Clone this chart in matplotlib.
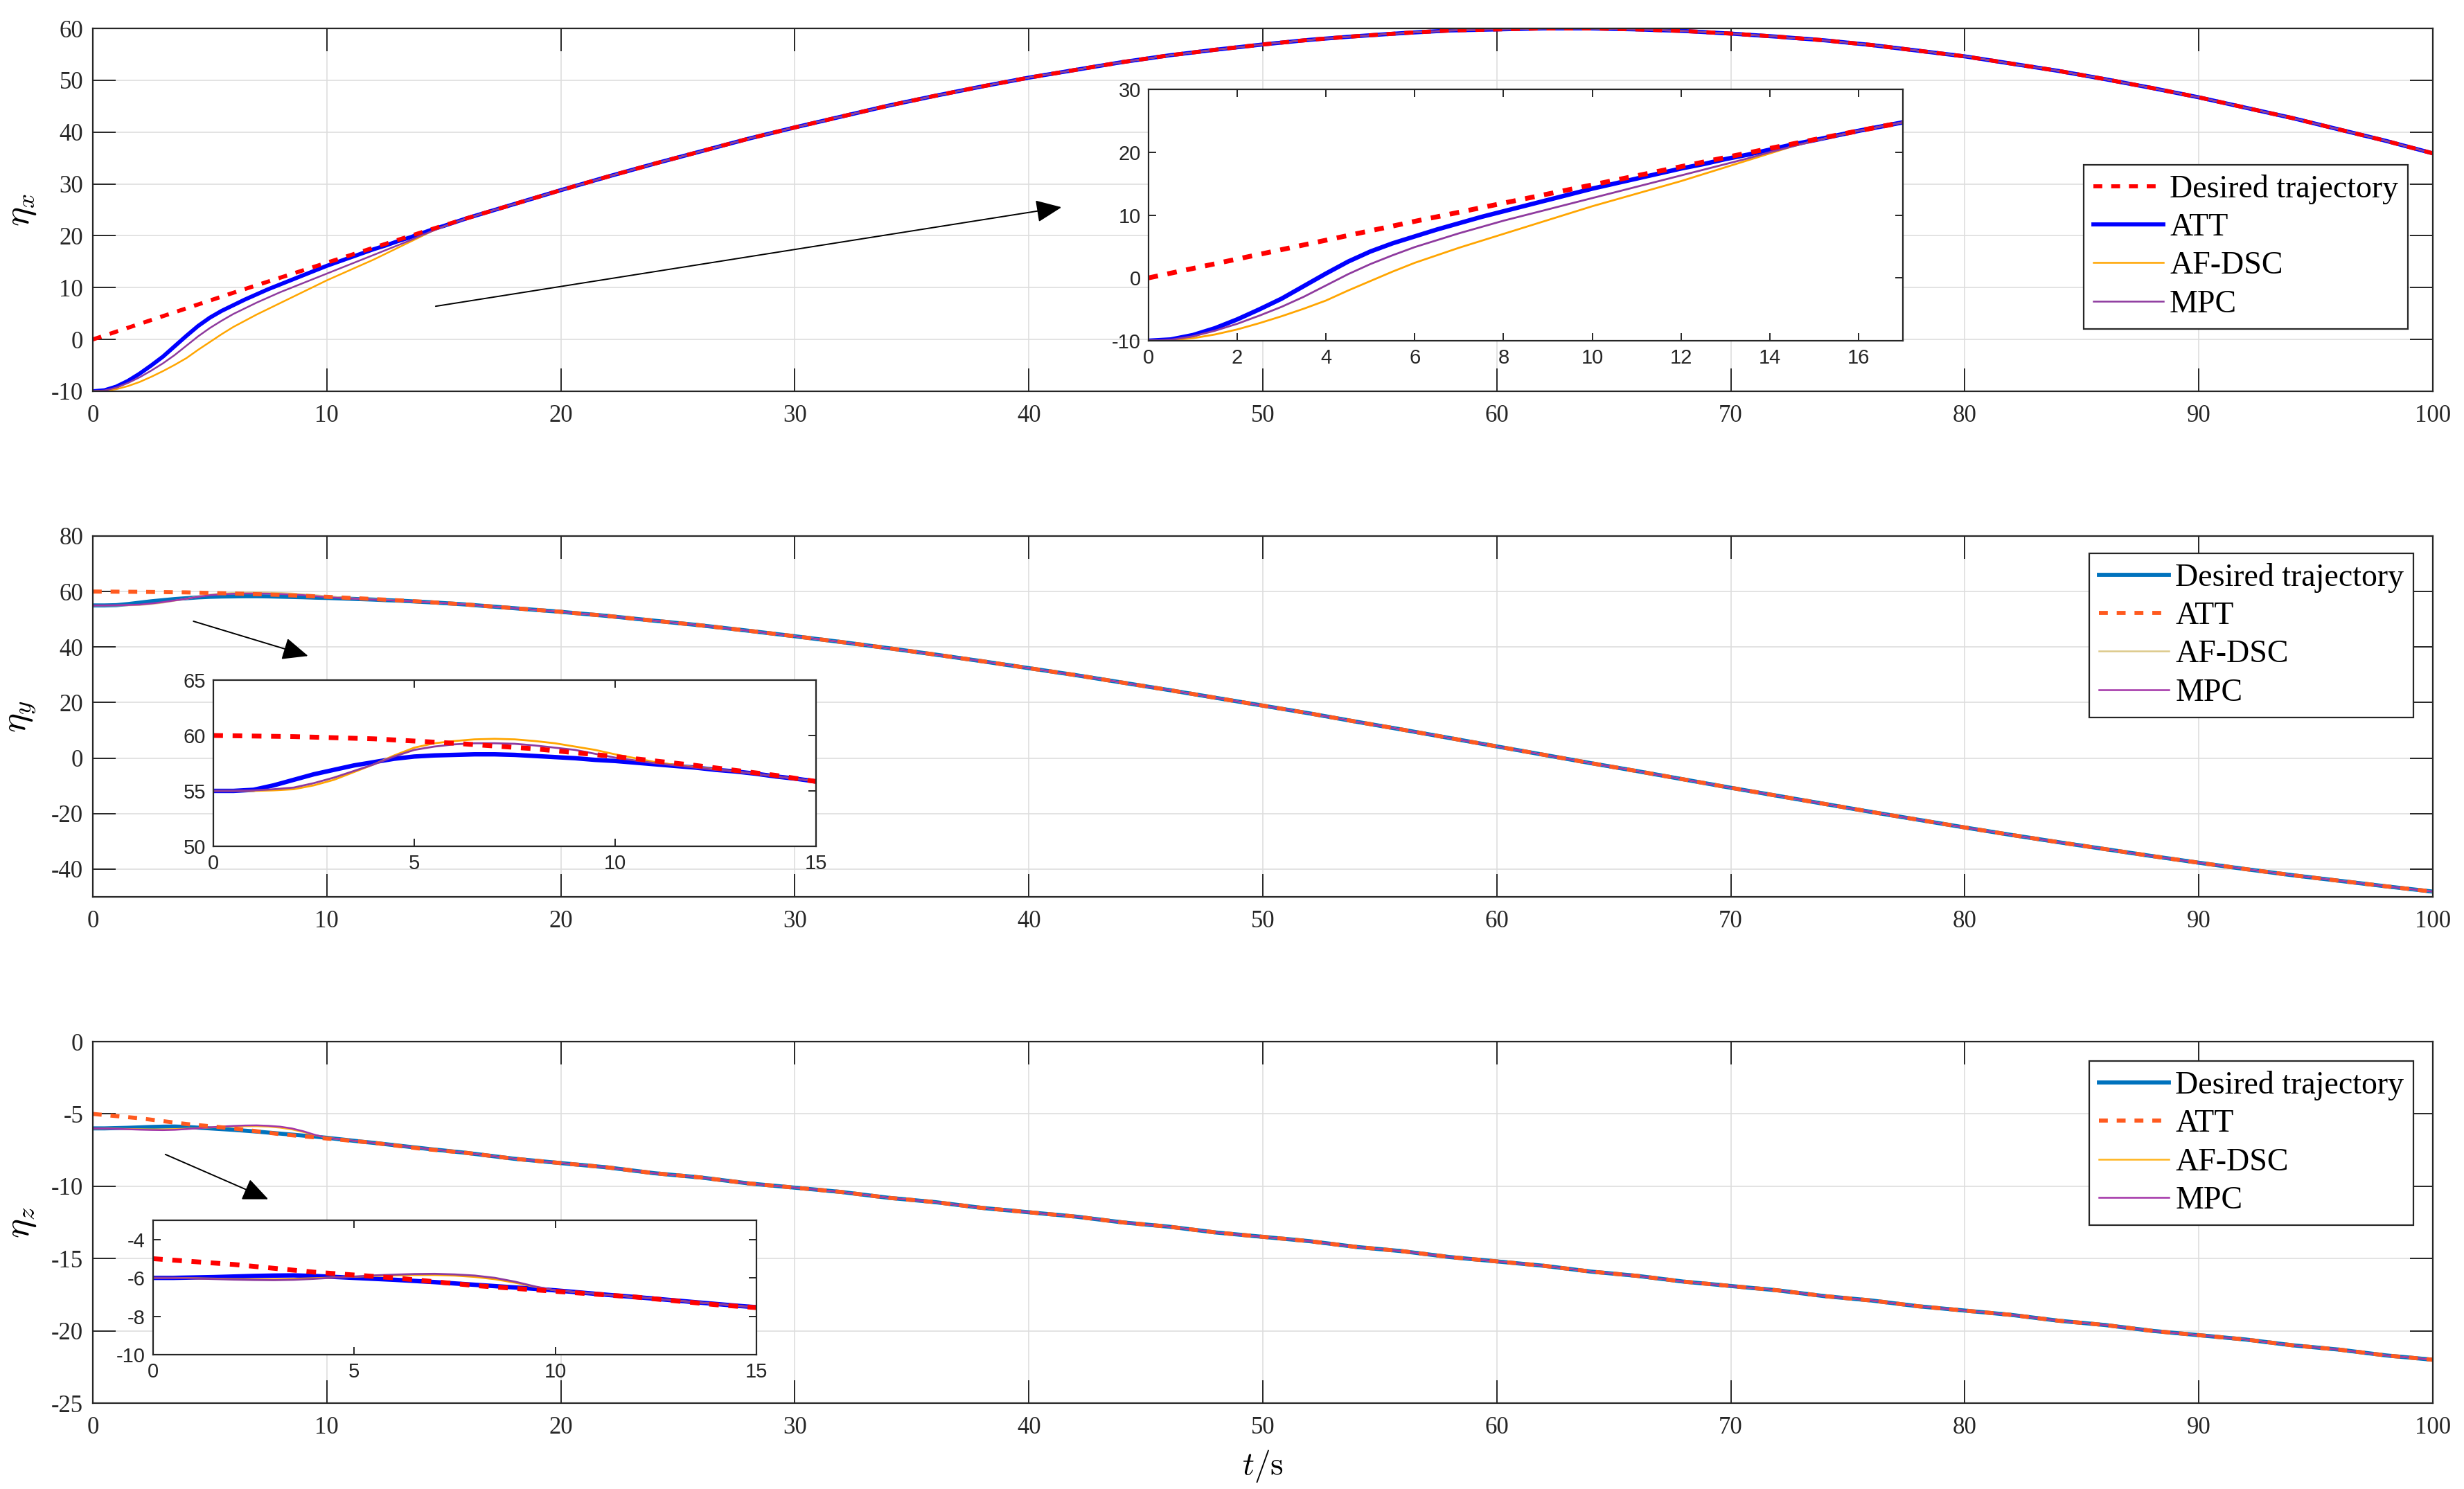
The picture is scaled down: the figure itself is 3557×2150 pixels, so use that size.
import matplotlib
matplotlib.use('Agg')
import matplotlib.pyplot as plt

plt.rcParams['font.family'] = ['Liberation Serif', 'DejaVu Serif']
plt.rcParams['mathtext.fontset'] = 'cm'
plt.rcParams['axes.unicode_minus'] = False

# desired trajectory, sampled every 2 s
t_des = [0, 2, 4, 6, 8, 10, 12, 14, 16, 18, 20, 22, 24, 26, 28, 30, 32, 34, 36, 38, 40,
         42, 44, 46, 48, 50, 52, 54, 56, 58, 60, 62, 64, 66, 68, 70, 72, 74, 76, 78, 80,
         82, 84, 86, 88, 90, 92, 94, 96, 98, 100]
x_des = [0.0, 3.0, 6.0, 9.0, 11.9, 14.8, 17.7, 20.6, 23.4, 26.1, 28.8, 31.4, 33.9, 36.3,
         38.7, 40.9, 43.0, 45.1, 47.0, 48.8, 50.5, 52.0, 53.5, 54.8, 55.9, 56.9, 57.8, 58.5,
         59.1, 59.6, 59.8, 60.0, 60.0, 59.8, 59.5, 59.0, 58.4, 57.7, 56.8, 55.7, 54.6, 53.2,
         51.8, 50.2, 48.5, 46.7, 44.7, 42.7, 40.5, 38.3, 35.9]
y_des = [60.0, 59.9, 59.7, 59.3, 58.8, 58.1, 57.3, 56.4, 55.3, 54.0, 52.7, 51.2, 49.5, 47.8,
         45.9, 43.9, 41.8, 39.6, 37.3, 34.9, 32.4, 29.9, 27.2, 24.5, 21.7, 18.9, 16.1, 13.1,
         10.2, 7.2, 4.2, 1.2, -1.8, -4.7, -7.7, -10.7, -13.6, -16.5, -19.4, -22.2, -25.0,
         -27.7, -30.3, -32.8, -35.3, -37.7, -40.0, -42.2, -44.2, -46.2, -48.1]
z_des = [-5.0, -5.3, -5.7, -6.0, -6.4, -6.7, -7.0, -7.4, -7.7, -8.1, -8.4, -8.7, -9.1, -9.4,
         -9.8, -10.1, -10.4, -10.8, -11.1, -11.5, -11.8, -12.1, -12.5, -12.8, -13.2, -13.5,
         -13.8, -14.2, -14.5, -14.9, -15.2, -15.5, -15.9, -16.2, -16.6, -16.9, -17.2, -17.6,
         -17.9, -18.3, -18.6, -18.9, -19.3, -19.6, -20.0, -20.3, -20.6, -21.0, -21.3, -21.7,
         -22.0]

# transient part of the controllers, every 0.5 s
t_tr = [0, 0.5, 1, 1.5, 2, 2.5, 3, 3.5, 4, 4.5, 5, 5.5, 6, 6.5, 7, 7.5, 8, 8.5, 9, 9.5,
        10, 10.5, 11, 11.5, 12, 12.5, 13, 13.5, 14, 14.5, 15]

x_att = [-10.0, -9.8, -9.1, -8.0, -6.6, -5.0, -3.3, -1.3, 0.7, 2.6, 4.2, 5.5, 6.6, 7.7, 8.7,
         9.7, 10.6, 11.5, 12.4, 13.3, 14.2, 15.0, 15.8, 16.6, 17.4, 18.1, 18.9, 19.6, 20.4,
         21.2, 21.9]
x_afdsc = [-10.0, -9.9, -9.6, -9.0, -8.2, -7.2, -6.1, -4.9, -3.6, -2.0, -0.5, 1.0, 2.4, 3.6,
           4.8, 5.9, 7.0, 8.1, 9.2, 10.3, 11.4, 12.4, 13.4, 14.4, 15.4, 16.5, 17.6, 18.7,
           19.8, 20.9, 21.8]
x_mpc = [-10.0, -9.85, -9.3, -8.4, -7.3, -6.0, -4.6, -3.0, -1.2, 0.6, 2.2, 3.6, 4.9, 6.0,
         7.1, 8.1, 9.1, 10.0, 10.9, 11.8, 12.7, 13.6, 14.5, 15.4, 16.3, 17.2, 18.1, 19.0,
         20.0, 20.9, 21.8]

y_att = [55.0, 55.0, 55.1, 55.5, 56.0, 56.5, 56.9, 57.3, 57.6, 57.9, 58.1, 58.2, 58.25, 58.3,
         58.3, 58.25, 58.15, 58.05, 57.95, 57.8, 57.7, 57.55, 57.4, 57.25, 57.1, 56.9, 56.75,
         56.55, 56.3, 56.1, 55.85]
y_afdsc = [55.0, 55.0, 55.0, 55.05, 55.15, 55.5, 56.0, 56.7, 57.4, 58.2, 58.9, 59.3, 59.5,
           59.65, 59.7, 59.65, 59.5, 59.3, 59.0, 58.7, 58.3, 57.95, 57.6, 57.35, 57.15, 56.95,
           56.75, 56.55, 56.3, 56.1, 55.85]
y_mpc = [55.0, 55.0, 55.05, 55.15, 55.3, 55.7, 56.2, 56.8, 57.4, 58.1, 58.7, 59.0, 59.2, 59.3,
         59.3, 59.25, 59.1, 58.9, 58.7, 58.35, 58.0, 57.75, 57.5, 57.3, 57.1, 56.9, 56.75,
         56.55, 56.3, 56.1, 55.85]

z_att = [-6.0, -6.0, -5.98, -5.96, -5.93, -5.9, -5.88, -5.87, -5.9, -5.95, -6.0, -6.05, -6.1,
         -6.16, -6.22, -6.29, -6.36, -6.43, -6.5, -6.57, -6.65, -6.74, -6.83, -6.92, -7.0,
         -7.09, -7.18, -7.27, -7.36, -7.45, -7.53]
z_afdsc = [-6.0, -6.0, -6.02, -6.04, -6.06, -6.07, -6.07, -6.05, -6.02, -5.98, -5.94, -5.9,
           -5.87, -5.85, -5.85, -5.88, -5.95, -6.07, -6.25, -6.47, -6.65, -6.74, -6.83, -6.92,
           -7.0, -7.09, -7.18, -7.27, -7.36, -7.45, -7.53]
z_mpc = [-6.0, -6.01, -6.03, -6.06, -6.09, -6.11, -6.12, -6.1, -6.05, -5.99, -5.93, -5.87,
         -5.83, -5.8, -5.79, -5.82, -5.88, -6.0, -6.2, -6.45, -6.65, -6.74, -6.83, -6.92,
         -7.0, -7.09, -7.18, -7.27, -7.36, -7.45, -7.53]

labels = ['Desired trajectory', 'ATT', 'AF-DSC', 'MPC']
ylabels = [r'$\eta_x$', r'$\eta_y$', r'$\eta_z$']


def full(tr, des):
    # controller output: transient, then on the desired trajectory
    t = t_tr + [tt for tt in t_des if tt > t_tr[-1]]
    v = tr + [vv for tt, vv in zip(t_des, des) if tt > t_tr[-1]]
    return t, v


fig = plt.figure(figsize=(17.785, 10.75), dpi=200)

main_pos = [[0.03767, 0.73721, 0.94968, 0.24372],
            [0.03767, 0.39767, 0.94968, 0.24233],
            [0.03767, 0.05767, 0.94968, 0.24279]]
inset_pos = [[0.46612, 0.77116, 0.30616, 0.16884],
             [0.08659, 0.43163, 0.24459, 0.11163],
             [0.06213, 0.09023, 0.24487, 0.09023]]
ylims = [(-10, 60), (-50, 80), (-25, 0)]
yticks = [range(-10, 61, 10), range(-40, 81, 20), range(-25, 1, 5)]
inset_xlim = [(0, 17), (0, 15), (0, 15)]
inset_ylim = [(-10, 30), (50, 65), (-10, -3)]
inset_xticks = [range(0, 17, 2), range(0, 16, 5), range(0, 16, 5)]
inset_yticks = [range(-10, 31, 10), range(50, 66, 5), range(-10, -3, 2)]
legend_anchor = [(0.9893, 0.624), (0.9917, 0.952), (0.9917, 0.946)]
arrows = [((14.65, 6.4), (41.4, 25.5)), ((4.3, 49.3), (9.2, 36.8)), ((3.1, -7.8), (7.5, -10.9))]

trs = [(x_att, x_afdsc, x_mpc, x_des), (y_att, y_afdsc, y_mpc, y_des), (z_att, z_afdsc, z_mpc, z_des)]

# colours of the main panels
main_cols = [('#0000FF', '#FFA500', '#8E3A9E', '#FF0000'),
             ('#0072BD', '#DCC98A', '#A334A8', '#FF5A1F'),
             ('#0072BD', '#FFB41E', '#A334A8', '#FF5A1F')]
ins_cols = ('#0000FF', '#FFA500', '#8E3A9E', '#FF0000')
dash = (2.2, 2.2)

for i in range(3):
    att, afd, mpc, des = trs[i]
    c_att, c_afd, c_mpc, c_des = main_cols[i]
    ax = fig.add_axes(main_pos[i])
    t1, v1 = full(att, des)
    t2, v2 = full(afd, des)
    t3, v3 = full(mpc, des)
    l_att, = ax.plot(t1, v1, color=c_att, lw=2.1)
    l_afd, = ax.plot(t2, v2, color=c_afd, lw=0.9)
    l_mpc, = ax.plot(t3, v3, color=c_mpc, lw=0.9)
    l_des, = ax.plot(t_des, des, color=c_des, lw=2.1, ls='--', dashes=dash)
    ax.set_xlim(0, 100)
    ax.set_ylim(*ylims[i])
    ax.set_xticks(range(0, 101, 10))
    ax.set_yticks(list(yticks[i]))
    ax.grid(True, color='#DEDEDE', lw=0.6)
    ax.set_axisbelow(True)
    ax.tick_params(direction='in', length=12, width=0.7, top=True, right=True,
                   labelsize=12.5, colors='#262626')
    ax.tick_params(axis='x', pad=7)
    ax.tick_params(axis='y', pad=5)
    for s in ax.spines.values():
        s.set_linewidth(0.8)
        s.set_color('#262626')
    ax.set_ylabel(ylabels[i], fontsize=19)
    ax.yaxis.set_label_coords(-0.0235, 0.5)

    if i == 0:
        handles = [l_des, l_att, l_afd, l_mpc]
    else:
        # legend in the source lists the lines in plotting order
        handles = [l_att, l_des, l_afd, l_mpc]
    leg = ax.legend(handles, labels, loc='upper right', bbox_to_anchor=legend_anchor[i],
                    fontsize=16.5, fancybox=False, framealpha=1, edgecolor='#262626',
                    handlelength=2.2, handletextpad=0.2, labelspacing=0.28,
                    borderpad=0.3, borderaxespad=0)
    leg.get_frame().set_linewidth(0.8)

    (x0, y0), (x1, y1) = arrows[i]
    ax.annotate('', xy=(x1, y1), xytext=(x0, y0),
                arrowprops=dict(arrowstyle='-|>,head_length=1.15,head_width=0.5',
                                mutation_scale=10, lw=0.7, color='black',
                                shrinkA=0, shrinkB=0))

    if i == 2:
        ax.set_xlabel(r'$t/\mathrm{s}$', fontsize=17)
        ax.xaxis.set_label_coords(0.5, -0.125)

    # zoomed inset
    ia = fig.add_axes(inset_pos[i])
    ia.plot(t1, v1, color=ins_cols[0], lw=2.3)
    ia.plot(t2, v2, color=ins_cols[1], lw=1.0)
    ia.plot(t3, v3, color=ins_cols[2], lw=1.0)
    ia.plot(t_des, des, color=ins_cols[3], lw=2.5, ls='--', dashes=(2.0, 2.0))
    ia.set_xlim(*inset_xlim[i])
    ia.set_ylim(*inset_ylim[i])
    ia.set_xticks(list(inset_xticks[i]))
    ia.set_yticks(list(inset_yticks[i]))
    ia.tick_params(direction='in', length=4, width=0.7, top=True, right=True,
                   labelsize=10.5, labelfontfamily='Liberation Sans', colors='#262626', pad=4)
    for s in ia.spines.values():
        s.set_linewidth(0.8)
        s.set_color('#262626')

fig.savefig('out.png', dpi=200)
